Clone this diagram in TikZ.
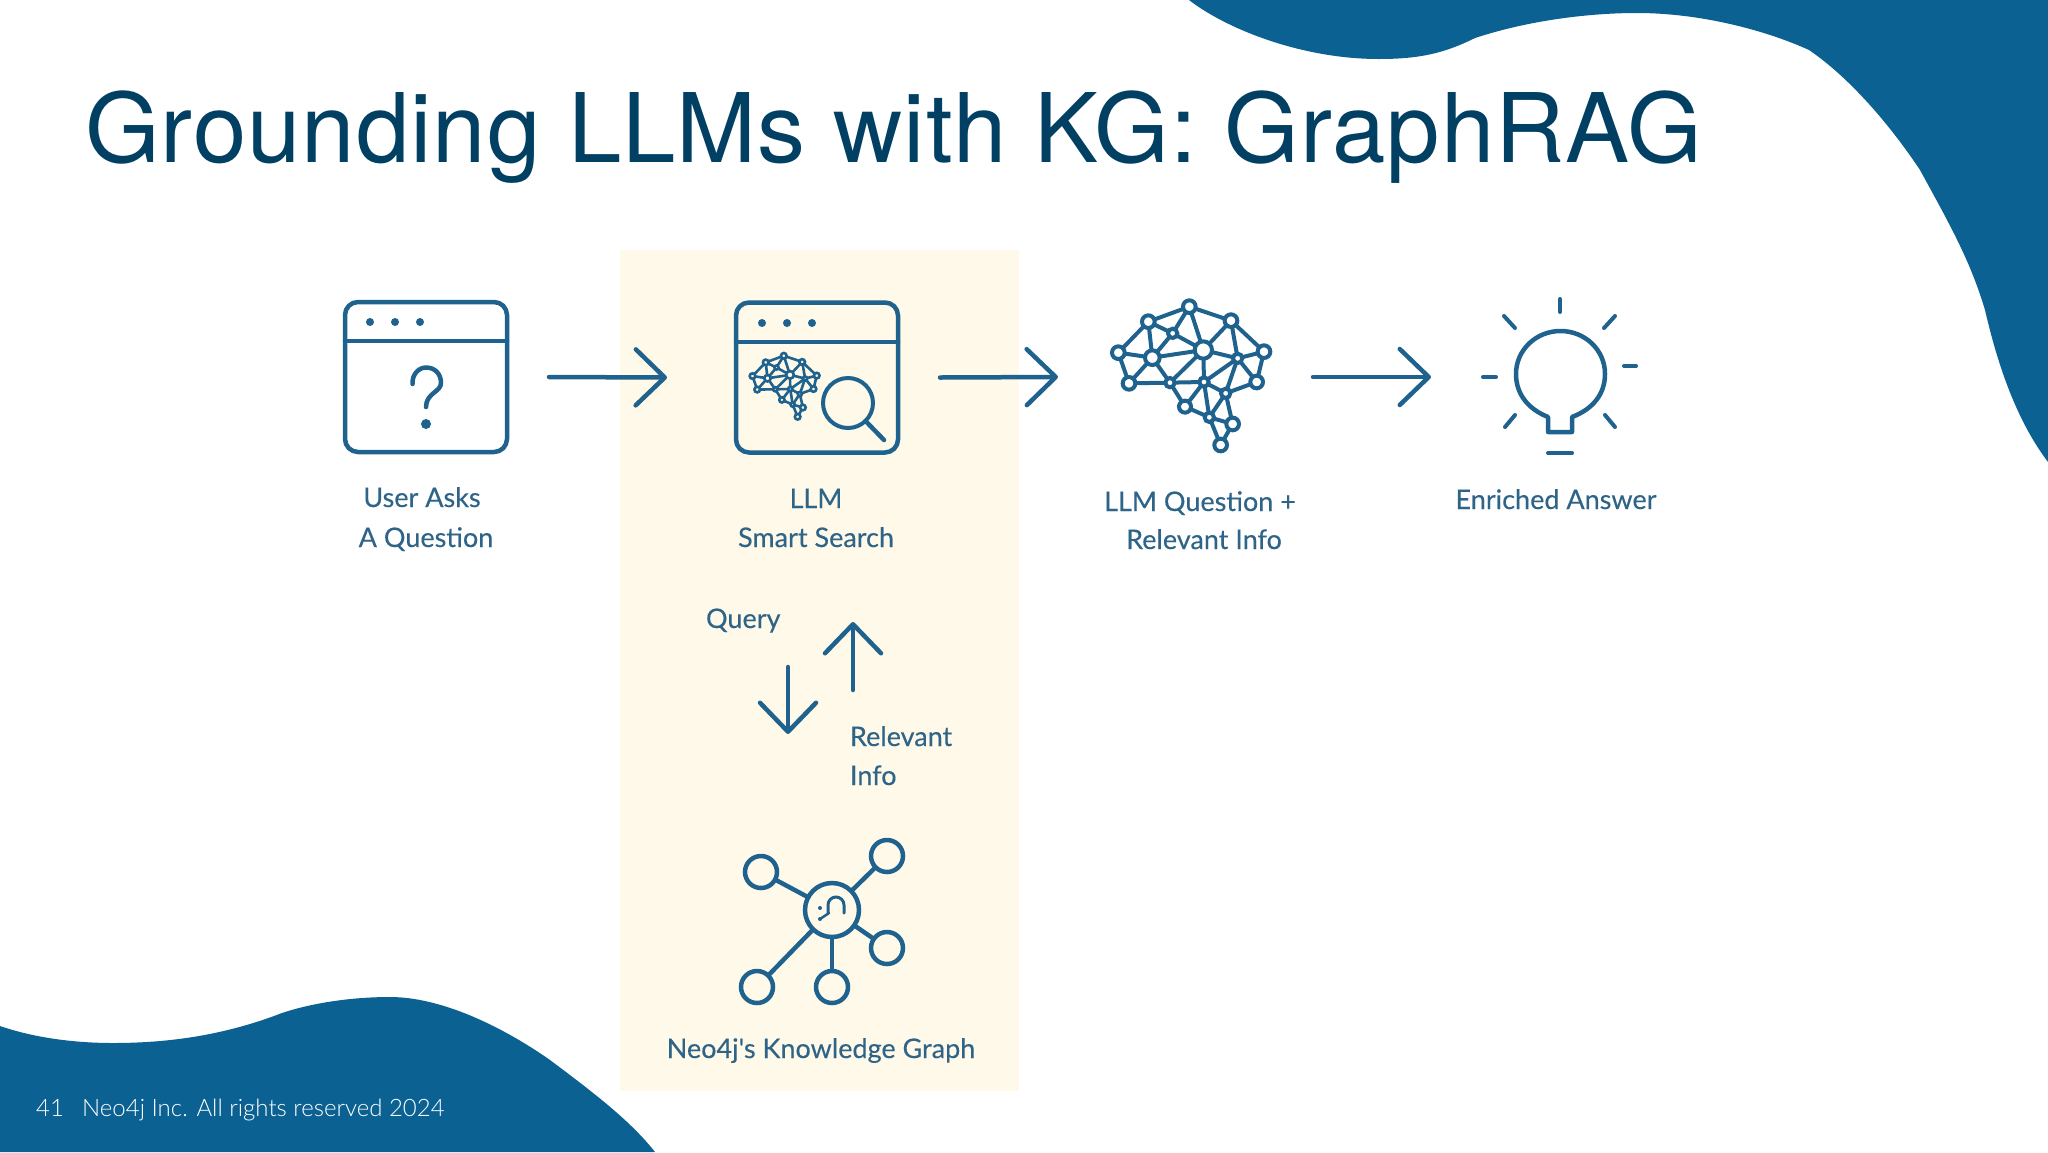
\documentclass[tikz,border=0pt]{standalone}
\usepackage{fontspec}
\setmainfont{Lato}
\newfontfamily\titlefont[LetterSpace=1.0]{TeX Gyre Heros}
\newfontfamily\labelfont[FakeBold=0.25]{Lato}
\newfontfamily\footfont{Lato Light}
\usetikzlibrary{arrows.meta}
\definecolor{blob}{HTML}{0B6292}
\definecolor{titleblue}{HTML}{014063}
\definecolor{icon}{HTML}{1F628E}
\definecolor{labelblue}{HTML}{2F6489}
\definecolor{panel}{HTML}{FEF9E8}
\tikzset{
  x=1pt,y=-1pt,
  iconline/.style={draw=icon,line width=4.5pt,line cap=round,line join=round},
  window/.style={iconline,rectangle,rounded corners=13pt,minimum width=162pt,minimum height=150pt,inner sep=0pt,outer sep=0pt},
  flow/.style={draw=icon,line width=4.5pt,line cap=round,-{Straight Barb[length=29pt,width=56pt,line width=4.5pt,round]}},
  dot/.style={circle,fill=icon,inner sep=0pt,outer sep=0pt,minimum size=8pt},
  ring/.style={circle,draw=icon,line width=4.5pt,inner sep=0pt,outer sep=0pt,minimum size=32pt},
  lab/.style={text=labelblue,font=\labelfont\fontsize{27}{40}\selectfont,inner sep=0pt,outer sep=0pt,align=center},
  bn/.style={circle,draw=icon,inner sep=0pt,outer sep=0pt,minimum size=#1},
  bn/.default=38pt,
  ray/.style={draw=icon,line width=4pt,line cap=round}
}
\newcommand{\brainicon}[5]{%
\begin{scope}[shift={(#2,#3)},scale=#4,transform shape,name prefix=#1-,line width=#5,every path/.append style={line width=#5}]
\foreach \nn/\px/\py/\sz in {a/85/218/38pt,b/175/125/38pt,c/298/80/38pt,d/423/122/38pt,e/522/215/38pt,f/248/160/28pt,g/187/233/44pt,h/340/210/52pt,i/443/235/28pt,j/117/310/38pt,k/240/308/28pt,l/342/306/28pt,m/500/306/38pt,n/407/340/28pt,o/285/380/36pt,p/358/412/28pt,q/428/432/38pt,r/392/495/38pt}
  {\node[bn=\sz,line width=#5] (\nn) at (\px,\py) {};}
\foreach \s/\t in {a/b,b/c,c/d,d/e,e/m,a/j,a/g,b/g,b/f,c/f,c/h,d/h,d/i,e/i,f/g,f/h,g/h,g/j,g/k,j/k,h/i,h/k,h/l,i/l,i/m,i/n,k/l,m/n,k/o,l/o,l/n,l/p,n/p,n/q,o/p,p/r,p/q,q/r}
  {\draw[draw=icon,line width=#5] (\s) -- (\t);}
\end{scope}}
\begin{document}
\begin{tikzpicture}
\useasboundingbox (0,0) rectangle (2048,1152);
\fill[white] (0,0) rectangle (2048,1152);
% blobs
\fill[blob] (1189,0) .. controls (1225,28) and (1300,59) .. (1379,59)
  .. controls (1420,59) and (1445,53) .. (1475,38)
  .. controls (1530,20) and (1590,13) .. (1637,13)
  .. controls (1700,13) and (1765,30) .. (1809,50)
  .. controls (1850,78) and (1890,125) .. (1920,170)
  .. controls (1950,225) and (1970,260) .. (1985,310)
  .. controls (2000,375) and (2020,425) .. (2048,462)
  -- (2048,0) -- cycle;
\fill[blob] (0,1026) .. controls (35,1038) and (75,1043) .. (113,1043)
  .. controls (170,1043) and (225,1035) .. (282,1013)
  .. controls (315,1002) and (355,997) .. (390,997)
  .. controls (440,997) and (500,1025) .. (550,1060)
  .. controls (590,1090) and (630,1120) .. (655,1152)
  -- (0,1152) -- cycle;
% panel
\fill[panel] (620,250) rectangle (1019,1091);
% title
\node[anchor=base west,inner sep=0pt,text=titleblue,font=\titlefont\fontsize{96}{96}\selectfont] (title) at (85,162) {Grounding LLMs with KG: GraphRAG};
% footer
\node[anchor=base west,inner sep=0pt,text=white,font=\footfont\fontsize{24}{24}\selectfont] (pagenum) at (36,1116) {41};
\node[anchor=base west,inner sep=0pt,text=white,font=\footfont\fontsize{24}{24}\selectfont] (footer) at (82,1116) {Neo4j Inc. All rights reserved 2024};
% window 1
\node[window] (win1) at (426,377) {};
\draw[iconline] (win1.west |- 0,341) -- (win1.east |- 0,341);
\node[dot] (w1a) at (370,322) {};
\node[dot] (w1b) at (395,322) {};
\node[dot] (w1c) at (420,322) {};
\draw[iconline] (412.5,384) .. controls (412,374) and (419,367.5) .. (426,367.5) .. controls (435,367.5) and (441,374) .. (441,383) .. controls (441,392) and (426,393) .. (426,407);
\node[dot,minimum size=10pt] (qdot) at (426,424) {};
% window 2
\node[window] (win2) at (817,377.5) {};
\draw[iconline] (win2.west |- 0,342) -- (win2.east |- 0,342);
\node[dot] (w2a) at (762,323) {};
\node[dot] (w2b) at (787,323) {};
\node[dot] (w2c) at (812,323) {};
\brainicon{s}{740}{344}{0.147}{2.6pt}
\node[circle,draw=icon,line width=4pt,minimum size=50pt,inner sep=0pt,outer sep=0pt] (lens) at (848,403) {};
\coordinate (handle) at (884,440);
\draw[draw=icon,line width=4.5pt,line cap=round] (lens) -- (handle);
% big brain
\brainicon{b}{1090}{280}{0.3333}{4pt}
% bulb
\draw[draw=icon,line width=4.5pt,line join=round] (1548,417) .. controls (1528,409) and (1516,394) .. (1516,374) .. controls (1516,350) and (1536,331) .. (1560.5,331) .. controls (1585,331) and (1605,350) .. (1605,374) .. controls (1605,394) and (1593,409) .. (1572,417) -- (1572,432) -- (1548,432) -- cycle;
\draw[ray] (1560,299) -- (1560,312);
\draw[ray] (1504,316) -- (1515,328);
\draw[ray] (1615,316) -- (1604,328);
\draw[ray] (1624,366) -- (1636,366);
\draw[ray] (1483,377) -- (1496,377);
\draw[ray] (1515,415) -- (1505,427);
\draw[ray] (1605,415) -- (1615,427);
\draw[ray] (1548,453) -- (1572,453);
% arrows
\coordinate (brainin) at (1058,377);
\coordinate (brainout) at (1313,377);
\coordinate (bulbin) at (1431,377);
\draw[flow] ([xshift=42pt]win1.east) -- ([xshift=-69pt]win2.west);
\draw[flow] ([xshift=42pt]win2.east) -- (brainin);
\draw[flow] (brainout) -- (bulbin);
\coordinate (qs) at (788,667); \coordinate (qe) at (788,734);
\coordinate (rs) at (853,690); \coordinate (re) at (853,622);
\draw[flow] (qs) -- (qe);
\draw[flow] (rs) -- (re);
% graph
\node[ring,minimum size=54pt] (hub) at (832,910) {};
\node[ring] (g1) at (761,872) {};
\node[ring] (g2) at (887,856) {};
\node[ring] (g3) at (887,948) {};
\node[ring] (g4) at (832,987) {};
\node[ring] (g5) at (757,987) {};
\foreach \t in {g1,g2,g3,g4,g5} {\draw[draw=icon,line width=4.5pt] (hub) -- (\t);}
\draw[draw=icon,line width=3pt,line cap=round] (828,913) -- (828,905) arc[start angle=180,end angle=0,radius=8pt] -- (844,913);
\draw[draw=icon,line width=2.5pt,line cap=round] (820,919) -- (829,913);
\node[dot,minimum size=4pt] (gd1) at (820,908) {};
\node[dot,minimum size=4pt] (gd2) at (820,919) {};
% labels
\node[lab,anchor=base] (l1) at (422,507) {User Asks};
\node[lab,anchor=base] (l1b) at (426,547) {A Question};
\node[lab,anchor=base] (l2) at (816,508) {LLM};
\node[lab,anchor=base] (l2b) at (816,547) {Smart Search};
\node[lab,anchor=base] (l3) at (1200,511) {LLM Question +};
\node[lab,anchor=base] (l3b) at (1204,549) {Relevant Info};
\node[lab,anchor=base] (l4) at (1556,509) {Enriched Answer};
\node[lab,anchor=base west] (l5) at (706,628) {Query};
\node[lab,anchor=base west] (l6) at (850,746) {Relevant};
\node[lab,anchor=base west] (l6b) at (850,785) {Info};
\node[lab,anchor=base] (l7) at (821,1058) {Neo4j's Knowledge Graph};
\end{tikzpicture}
\end{document}
